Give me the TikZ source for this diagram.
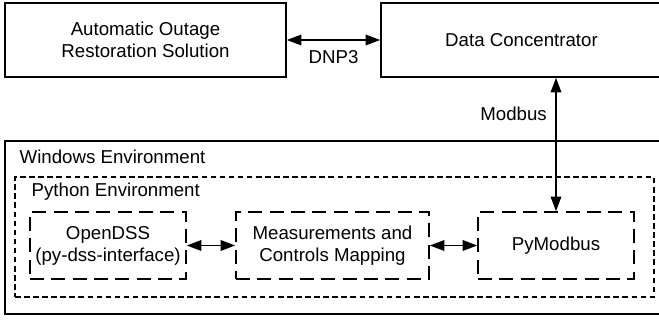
\documentclass[tikz,border=0pt]{standalone}
\usepackage{fontspec}
\setmainfont{Liberation Sans}
\usetikzlibrary{positioning, arrows.meta}

\begin{document}
\begin{tikzpicture}[x=0.75pt, y=-0.75pt,
    font=\fontsize{14}{16.5}\selectfont,
    box/.style={draw, line width=1.2pt, align=center, inner sep=0pt},
    envbox/.style={draw, line width=1.2pt, inner sep=0pt},
    pybox/.style={draw, line width=1.2pt, dash pattern=on 4.2pt off 2.6pt, inner sep=0pt},
    modbox/.style={draw, line width=1.2pt, dash pattern=on 10.5pt off 5.5pt, align=center, inner sep=0pt},
    link/.style={{Triangle[length=11pt,width=8pt]}-{Triangle[length=11pt,width=8pt]}, line width=1.2pt}]
    \useasboundingbox (0,0) rectangle (659,320);

    \node[box, minimum width=281*0.75pt, minimum height=74*0.75pt] (AORS) at (145.5, 40) {Automatic Outage\\Restoration Solution};
    \node[box, minimum width=281*0.75pt, minimum height=74*0.75pt] (DC) at (521.5, 40) {Data Concentrator};

    \node[envbox, minimum width=657*0.75pt, minimum height=173*0.75pt] (Win) at (333.5, 227.5) {};
    \node[anchor=west] (WinTitle) at (15, 157) {Windows Environment};

    \node[pybox, minimum width=639*0.75pt, minimum height=120*0.75pt] (Py) at (334.5, 237) {};
    \node[anchor=west] (PyTitle) at (27, 192) {Python Environment};

    \node[modbox, minimum width=156*0.75pt, minimum height=67*0.75pt] (DSS) at (108, 245.5) {OpenDSS\\(py-dss-interface)};
    \node[modbox, minimum width=193*0.75pt, minimum height=67*0.75pt] (Map) at (332.5, 245.5) {Measurements and\\Controls Mapping};
    \node[modbox, minimum width=156*0.75pt, minimum height=67*0.75pt] (PyM) at (556, 245.5) {PyModbus};

    \draw [link] (AORS) -- node[below=4pt] {DNP3} (DC);
    \draw [link] (PyM.north |- DC.south) -- node[pos=0.27, left=3pt] {Modbus} (PyM.north);
    \draw [link] (DSS) -- (Map);
    \draw [link] (Map) -- (PyM);
\end{tikzpicture}
\end{document}
